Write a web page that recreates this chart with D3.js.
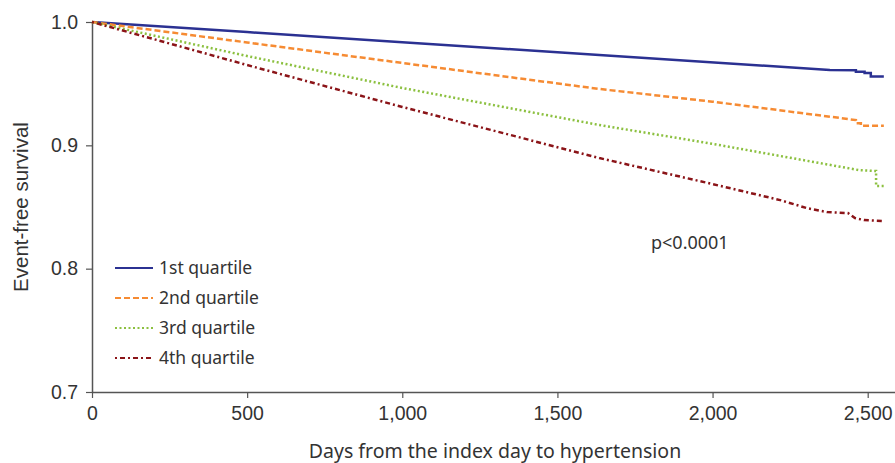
<!DOCTYPE html>
<html>
<head>
<meta charset="utf-8">
<script src="https://cdn.jsdelivr.net/npm/d3@7"></script>
<style>
  body { margin: 0; background: #fff; }
</style>
</head>
<body>
<div id="chart"></div>
<script>
// Kaplan-Meier curves (days, survival)
const q1Days = [0, 500, 1000, 1635, 2378, 2462, 2462, 2490, 2490, 2510, 2510, 2552];
const q1Surv = [1.0, 0.9918, 0.9836, 0.9732, 0.9611, 0.9608, 0.9597, 0.9597, 0.9586, 0.9586, 0.9558, 0.9558];

const q2Days = [0, 500, 1000, 1635, 2000, 2462, 2462, 2478, 2478, 2552];
const q2Surv = [1.0, 0.9834, 0.9668, 0.9457, 0.9354, 0.9205, 0.9180, 0.9180, 0.9159, 0.9159];

const q3Days = [0, 500, 1000, 1635, 2000, 2470, 2527, 2527, 2552];
const q3Surv = [1.0, 0.9724, 0.9465, 0.9165, 0.9012, 0.8800, 0.8792, 0.8670, 0.8670];

const q4Days = [0, 500, 1000, 1635, 2000, 2218, 2304, 2369, 2436, 2459, 2488, 2549];
const q4Surv = [1.0, 0.9651, 0.9311, 0.8897, 0.8686, 0.8556, 0.8491, 0.8459, 0.8451, 0.8410, 0.8394, 0.8386];

const seriesNames = ["1st quartile", "2nd quartile", "3rd quartile", "4th quartile"];
const xTicks = [0, 500, 1000, 1500, 2000, 2500];
const yTicks = [0.7, 0.8, 0.9, 1.0];

const width = 895, height = 463;
const margin = { left: 92, right: 0, top: 22, bottom: 71 };

const svg = d3.select("#chart").append("svg")
  .attr("width", width)
  .attr("height", height);

const x = d3.scaleLinear().domain([0, 2588]).range([margin.left, width - margin.right]);
const y = d3.scaleLinear().domain([0.7, 1.0]).range([height - margin.bottom, margin.top]);

const axisColor = "#555";
const textColor = "#333";

// x axis
const xAxis = svg.append("g")
  .attr("transform", `translate(0,${y(0.7)})`)
  .call(d3.axisBottom(x).tickValues(xTicks).tickFormat(d3.format(",")).tickSize(6).tickSizeOuter(0));
xAxis.select(".domain").attr("stroke", axisColor).attr("stroke-width", 1.5);
xAxis.selectAll(".tick line").attr("stroke", axisColor).attr("stroke-width", 1.2);
xAxis.selectAll(".tick text")
  .attr("fill", textColor)
  .attr("font-family", "Liberation Sans, Arial, sans-serif")
  .attr("font-size", 19.5)
  .attr("y", 10)
  .attr("dy", "0.9em");

// y axis
const yAxis = svg.append("g")
  .attr("transform", `translate(${x(0)},0)`)
  .call(d3.axisLeft(y).tickValues(yTicks).tickFormat(d3.format(".1f")).tickSize(6).tickSizeOuter(0));
yAxis.select(".domain").attr("stroke", axisColor).attr("stroke-width", 1.5);
yAxis.selectAll(".tick line").attr("stroke", axisColor).attr("stroke-width", 1.2);
yAxis.selectAll(".tick text")
  .attr("fill", textColor)
  .attr("font-family", "Liberation Sans, Arial, sans-serif")
  .attr("font-size", 19.5)
  .attr("x", -14);

// axis titles
svg.append("text")
  .attr("x", 495)
  .attr("y", 458)
  .attr("text-anchor", "middle")
  .attr("font-family", "Noto Sans, sans-serif")
  .attr("font-size", 19.5)
  .attr("fill", textColor)
  .text("Days from the index day to hypertension");

svg.append("text")
  .attr("transform", `translate(28,207) rotate(-90)`)
  .attr("text-anchor", "middle")
  .attr("font-family", "Liberation Sans, Arial, sans-serif")
  .attr("font-size", 20.5)
  .attr("fill", textColor)
  .text("Event-free survival");

// curves
const series = [
  { name: seriesNames[0], days: q1Days, surv: q1Surv, color: "#2b3192", dash: null },
  { name: seriesNames[1], days: q2Days, surv: q2Surv, color: "#f68b33", dash: "6,3" },
  { name: seriesNames[2], days: q3Days, surv: q3Surv, color: "#8cc040", dash: "2,2.5" },
  { name: seriesNames[3], days: q4Days, surv: q4Surv, color: "#8b1418", dash: "2,3,5,3" }
];

const line = d3.line()
  .x(d => x(d[0]))
  .y(d => y(d[1]));

series.forEach(s => {
  const pts = s.days.map((d, i) => [d, s.surv[i]]);
  svg.append("path")
    .datum(pts)
    .attr("fill", "none")
    .attr("stroke", s.color)
    .attr("stroke-width", 2.5)
    .attr("stroke-dasharray", s.dash)
    .attr("d", line);
});

// legend
const legend = svg.append("g").attr("transform", "translate(115,268)");
series.forEach((s, i) => {
  const g = legend.append("g").attr("transform", `translate(0,${i * 30})`);
  g.append("line")
    .attr("x1", 0).attr("x2", 38)
    .attr("y1", 0).attr("y2", 0)
    .attr("stroke", s.color)
    .attr("stroke-width", 2.2)
    .attr("stroke-dasharray", s.dash);
  g.append("text")
    .attr("x", 44)
    .attr("y", 6)
    .attr("font-family", "Noto Sans, sans-serif")
    .attr("font-size", 17.5)
    .attr("fill", textColor)
    .text(s.name);
});

// p value
svg.append("text")
  .attr("x", 651)
  .attr("y", 249)
  .attr("font-family", "Noto Sans, sans-serif")
  .attr("font-size", 18)
  .attr("fill", textColor)
  .text("p<0.0001");
</script>
</body>
</html>
